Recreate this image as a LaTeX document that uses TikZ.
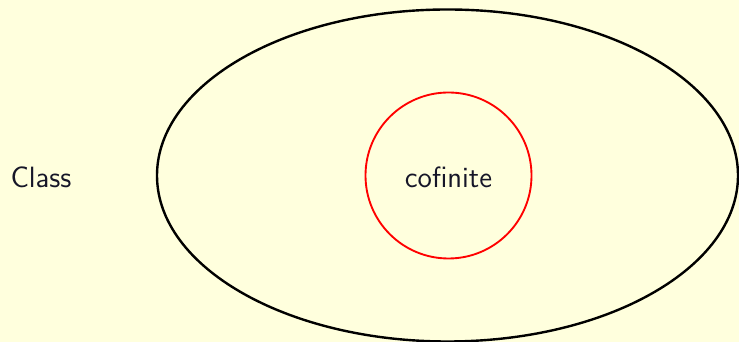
\documentclass[tikz,border=0pt]{standalone}
\usetikzlibrary{shapes.geometric}
\definecolor{bg}{RGB}{255,255,221}
\definecolor{txt}{RGB}{22,22,40}
\begin{document}
\begin{tikzpicture}[x=0.375pt,y=0.375pt,
  lbl/.style={font=\sffamily\fontsize{11}{13}\selectfont, text=txt, inner sep=0pt},
  outer/.style={ellipse, draw=black, line width=0.9pt, minimum width=0.375pt*581, minimum height=0.375pt*332, inner sep=0pt},
  inner/.style={circle, draw=red, line width=0.7pt, minimum size=0.375pt*166, inner sep=0pt}]
\fill[bg] (0,0) rectangle (739,342);
\useasboundingbox (0,0) rectangle (739,342);
\node[outer] (classset) at (447.5,166.5) {};
\node[inner] (cof) at (448.5,166.5) {};
\node[lbl] (coflabel) at (448.5,165) {cofinite};
\node[lbl, anchor=west] (classlabel) at (10,165) {Class};
\end{tikzpicture}
\end{document}
